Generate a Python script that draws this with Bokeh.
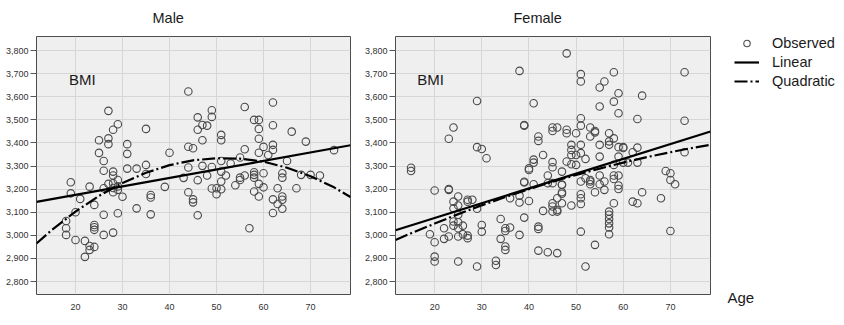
from bokeh.plotting import figure
from bokeh.layouts import row
from bokeh.models import (Range1d, Label, Legend, LegendItem, FixedTicker,
                          NumeralTickFormatter, Title)
from bokeh.embed import file_html
from bokeh.resources import INLINE

# ---------------- data ----------------
male_age = [19, 19, 21, 18, 18, 18, 20, 20, 22, 22, 23, 23, 23, 24, 24, 24, 24, 24,
            25, 25, 26, 26, 26, 26, 26, 27, 27, 27, 27, 28, 28, 28, 28, 28, 28,
            29, 29, 29, 29, 30, 31, 31, 31, 33, 33, 35, 35, 35, 36, 36, 36, 39, 40,
            43, 44, 44, 44, 44, 45, 45, 45, 46, 46, 46, 46, 47, 47, 47, 48, 48,
            49, 49, 49, 49, 50, 50, 51, 51, 51, 51, 51, 51, 52, 53, 54, 55, 55, 55,
            56, 56, 56, 57, 58, 58, 58, 58, 58, 59, 59, 59, 59, 59, 59, 60, 60, 60,
            61, 62, 62, 62, 62, 62, 62, 63, 63, 64, 64, 64, 64, 64, 65, 66, 67, 68,
            69, 70, 72, 75, 28, 29]
male_bmi = [3230, 3182, 3158, 3062, 3031, 3002, 3100, 2980, 2976, 2907, 3211, 2954, 2937,
            2950, 3045, 3035, 3024, 3132, 3412, 3357, 3322, 3280, 3204, 3089, 3002,
            3539, 3420, 3395, 3223, 3457, 3276, 3259, 3226, 3187, 3012, 3481, 3240,
            3197, 3096, 3167, 3395, 3353, 3289, 3289, 3117, 3461, 3305, 3266, 3175,
            3164, 3091, 3210, 3358, 3249, 3623, 3384, 3294, 3187, 3377, 3156, 3143,
            3511, 3457, 3239, 3087, 3478, 3412, 3301, 3475, 3259, 3542, 3513, 3296,
            3203, 3204, 3178, 3435, 3412, 3322, 3276, 3233, 3200, 3259, 3311, 3217,
            3240, 3250, 3337, 3556, 3373, 3259, 3031, 3500, 3273, 3262, 3250, 3190,
            3500, 3461, 3418, 3358, 3223, 3168, 3383, 3269, 3208, 3348, 3575, 3477,
            3392, 3370, 3156, 3097, 3204, 3136, 3269, 3250, 3168, 3154, 3115, 3322,
            3449, 3204, 3262, 3406, 3262, 3259, 3369, 3205, 3212]

female_age = [15, 15, 20, 19, 20, 20, 20, 22, 22, 23, 23, 23, 23, 24, 24, 24, 24, 24,
              25, 25, 25, 25, 25, 25, 25, 26, 26, 27, 27, 27, 27, 28, 29, 29, 29, 29,
              30, 30, 30, 31, 33, 33, 34, 34, 35, 35, 35, 35, 36, 36, 38, 38, 38, 38,
              39, 39, 39, 39, 40, 40, 41, 41, 41, 41, 42, 42, 42, 42, 42, 43, 43, 44,
              44, 44, 45, 45, 45, 45, 45, 45, 45, 45, 46, 46, 46, 46, 46, 47, 47, 47,
              47, 48, 48, 48, 48, 49, 49, 49, 49, 50, 50, 50, 51, 51, 51, 51, 51, 51,
              51, 51, 51, 51, 51, 52, 52, 52, 53, 53, 53, 53, 54, 54, 54, 54, 55, 55,
              55, 55, 55, 55, 56, 56, 56, 57, 57, 57, 57, 57, 57, 57, 57, 58, 58, 58,
              58, 58, 58, 58, 59, 59, 59, 59, 59, 59, 59, 60, 60, 61, 62, 62, 63, 63,
              63, 63, 64, 64, 68, 69, 70, 70, 70, 71, 73, 73, 73, 49, 57, 60, 40, 39,
              47, 47, 53]
female_bmi = [3293, 3279, 3194, 3005, 2970, 2908, 2887, 3031, 2985, 2995, 3418, 3201,
              3197, 3467, 3146, 3117, 3060, 3042, 3168, 3129, 3089, 3057, 3031, 2995,
              2887, 3042, 3005, 3154, 2999, 2988, 3146, 3154, 3582, 3115, 2865, 3382,
              3374, 3045, 3016, 3334, 2890, 2872, 3071, 2985, 3031, 3019, 2952, 2937,
              3034, 3161, 3712, 3172, 3142, 3002, 3478, 3475, 3229, 3077, 3283, 3149,
              3572, 3328, 3315, 3221, 3428, 3409, 3038, 3028, 2934, 3348, 3106, 2927,
              3259, 3226, 3467, 3452, 3317, 3295, 3226, 3139, 3125, 3103, 3467, 3161,
              3110, 3103, 2923, 3276, 3218, 3187, 3139, 3788, 3457, 3442, 3320, 3392,
              3370, 3308, 3129, 3442, 3348, 3305, 3698, 3666, 3507, 3475, 3392, 3356,
              3233, 3178, 3161, 3136, 3016, 3331, 2865, 3247, 3467, 3428, 3233, 3221,
              3452, 3446, 3187, 2959, 3640, 3558, 3392, 3341, 3259, 3221, 3666, 3233,
              3197, 3442, 3392, 3103, 3089, 3071, 3052, 3034, 3005, 3706, 3579, 3420,
              3305, 3259, 3244, 3139, 3615, 3529, 3382, 3341, 3259, 3216, 3201, 3382,
              3315, 3315, 3360, 3146, 3380, 3315, 3139, 3504, 3605, 3187, 3161, 3279,
              3269, 3240, 3019, 3221, 3706, 3496, 3360, 3348, 3407, 3378, 3290, 3232,
              3180, 3220, 3240]

# fitted curves, read at fixed ages
linear_age = [11.7, 78.5]
male_linear = [3145, 3390]
female_linear = [3022, 3450]

quad_age = [11.7, 15, 20, 25, 30, 35, 40, 45, 50, 55, 60, 65, 70, 75, 78.5]
male_quad = [2965, 3024, 3103, 3171, 3227, 3271, 3304, 3325, 3334, 3332, 3319,
             3293, 3256, 3208, 3166]
female_quad = [2980, 3009, 3051, 3092, 3130, 3166, 3200, 3232, 3262, 3289, 3315,
               3339, 3360, 3380, 3392]

x_ticks = [20, 30, 40, 50, 60, 70]
y_ticks = [2800, 2900, 3000, 3100, 3200, 3300, 3400, 3500, 3600, 3700, 3800]

FONT = "Liberation Sans"
TEXT = "#1a1a1a"
POINT = "#4a4a4a"
DASHDOT = "13 3 2 3"


def panel(title, ages, bmis, lin, quad, bmi_x, border_left, frame_w, border_right,
          title_offset):
    p = figure(frame_width=frame_w, frame_height=258,
               x_range=Range1d(11.7, 78.5), y_range=Range1d(2744, 3861),
               output_backend="svg", toolbar_location=None,
               min_border_left=border_left, min_border_right=border_right,
               min_border_top=35, min_border_bottom=32)
    p.title.text = title
    p.title.align = "left"
    p.title.offset = title_offset
    p.title.vertical_align = "top"
    p.title.standoff = 18
    p.title.text_font = FONT
    p.title.text_font_size = "14.5px"
    p.title.text_font_style = "normal"
    p.title.text_color = TEXT

    p.background_fill_color = "#efefef"
    p.border_fill_color = "white"
    p.outline_line_color = "#4d4d4d"
    p.outline_line_width = 1

    p.xgrid.ticker = FixedTicker(ticks=x_ticks)
    p.ygrid.ticker = FixedTicker(ticks=y_ticks)
    p.grid.grid_line_color = "#d6d6d6"
    p.grid.grid_line_width = 1

    p.xaxis.ticker = FixedTicker(ticks=x_ticks)
    p.yaxis.ticker = FixedTicker(ticks=y_ticks)
    p.yaxis.formatter = NumeralTickFormatter(format="0,0")
    for ax in (p.xaxis, p.yaxis):
        ax.axis_line_color = None
        ax.minor_tick_line_color = None
        ax.major_label_text_font = FONT
        ax.major_label_text_font_size = "9px"
        ax.major_label_text_color = "#333333"
    p.xaxis.major_tick_line_color = None
    p.xaxis.major_label_standoff = 3
    p.yaxis.major_tick_in = 0
    p.yaxis.major_tick_out = 6
    p.yaxis.major_tick_line_color = "#555555"
    p.yaxis.major_label_standoff = 2

    obs = p.scatter(ages, bmis, marker="circle", size=7.5, fill_color=None,
                    line_color=POINT, line_width=1.1)
    lin_r = p.line(linear_age, lin, line_color="black", line_width=2.2)
    quad_r = p.line(quad_age, quad, line_color="black", line_width=2.2,
                    line_dash=DASHDOT)

    p.add_layout(Label(x=bmi_x, y=3674, text="BMI", text_font=FONT,
                       text_font_size="15px", text_color=TEXT,
                       text_baseline="alphabetic"))
    return p, obs, lin_r, quad_r


p_m, _, _, _ = panel("Male", male_age, male_bmi, male_linear, male_quad,
                     18.6, 36, 314, 8, 116)
p_f, obs_f, lin_f, quad_f = panel("Female", female_age, female_bmi, female_linear,
                                  female_quad, 16.3, 37, 315, 134, 118)

legend = Legend(items=[LegendItem(label="Observed", renderers=[obs_f]),
                       LegendItem(label="Linear", renderers=[lin_f]),
                       LegendItem(label="Quadratic", renderers=[quad_f])],
                location=(24, 205), margin=0, padding=0, spacing=3,
                glyph_width=25, glyph_height=16, label_height=16,
                label_standoff=13, label_text_font=FONT,
                label_text_font_size="14.5px", label_text_color=TEXT,
                border_line_color=None, background_fill_alpha=0)
p_f.add_layout(legend, "right")

# shared x-axis name, set to the right of the lower frame edge
age_title = Title(text="Age", align="left", offset=332, vertical_align="top",
                  standoff=-48, text_font=FONT, text_font_size="15px",
                  text_font_style="normal", text_color=TEXT)
p_f.add_layout(age_title, "below")

layout = row(p_m, p_f)
open("out.html", "w").write(file_html(layout, INLINE))
